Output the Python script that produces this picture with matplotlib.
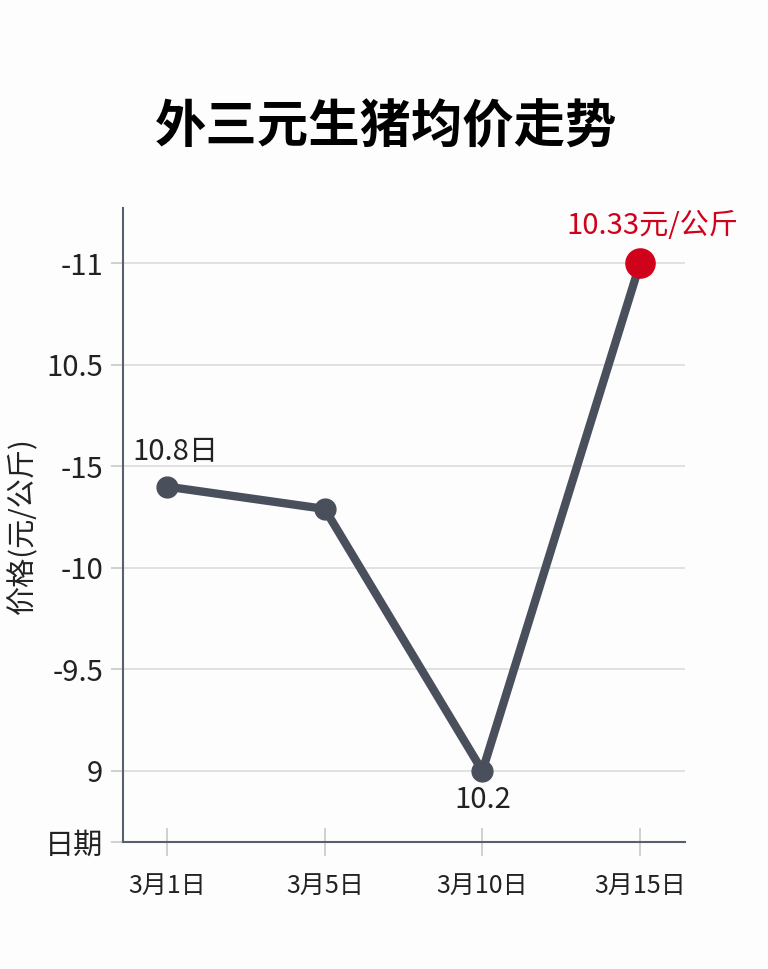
import matplotlib
matplotlib.use("Agg")
import matplotlib.pyplot as plt

plt.rcParams['font.family'] = ['Noto Sans CJK SC', 'DejaVu Sans']

dates = ["3月1日", "3月5日", "3月10日", "3月15日"]
prices = [10.40, 10.29, 9.0, 11.5]  # positions
point_labels = ["10.8日", "", "10.2", "10.33元/公斤"]
ytick_values = [8.65, 9.0, 9.5, 10.0, 10.5, 11.0, 11.5]
ytick_labels = ["日期", "9", "-9.5", "-10", "-15", "10.5", "-11"]

line_color = "#4a4f5c"
red = "#d0021b"

fig = plt.figure(figsize=(7.68, 9.69), dpi=100, facecolor="#fdfdfd")
ax = fig.add_axes([0.160, 0.131, 0.732, 0.654])
ax.set_facecolor("#fdfdfd")

x = list(range(len(dates)))
ax.plot(x, prices, color=line_color, lw=6, solid_capstyle="round",
        solid_joinstyle="round", zorder=3)
ax.plot(x[:-1], prices[:-1], "o", color=line_color, ms=15, zorder=4)
ax.plot(x[-1], prices[-1], "o", color=red, ms=21, zorder=5)

ax.set_xlim(-0.28, 3.285)
ax.set_ylim(8.65, 11.77)
ax.set_xticks(x)
ax.set_xticklabels(dates, fontsize=18)
ax.set_yticks(ytick_values)
ax.set_yticklabels(ytick_labels, fontsize=21)

for s in ["top", "right"]:
    ax.spines[s].set_visible(False)
for s in ["left", "bottom"]:
    ax.spines[s].set_color("#5a5f70")
    ax.spines[s].set_linewidth(1.5)

ax.yaxis.grid(True, color="#dcdcdc", lw=1.2)
ax.set_axisbelow(True)
ax.tick_params(axis="x", direction="inout", length=20, color="#c8c8d0",
               width=1.2, pad=12, labelcolor="#222222")
ax.tick_params(axis="y", direction="out", length=9, color="#c8c8d0",
               width=1.2, pad=5, labelcolor="#222222")

# point annotations
ax.annotate(point_labels[0], (x[0], prices[0]), xytext=(6, 14),
            textcoords="offset points", ha="center", va="bottom",
            fontsize=21, color="#222222")
ax.annotate(point_labels[2], (x[2], prices[2]), xytext=(0, -10),
            textcoords="offset points", ha="center", va="top",
            fontsize=21, color="#222222")
ax.annotate(point_labels[3], (x[3], prices[3]), xytext=(9, 16),
            textcoords="offset points", ha="center", va="bottom",
            fontsize=21, color=red)

ax.set_ylabel("价格(元/公斤)", fontsize=21, color="#222222")
ax.yaxis.set_label_coords(-0.15, 0.5)

fig.suptitle("外三元生猪均价走势", fontsize=37, fontweight="bold",
             x=0.503, y=0.869, va="center")

fig.savefig("out.png", dpi=100, facecolor=fig.get_facecolor())
